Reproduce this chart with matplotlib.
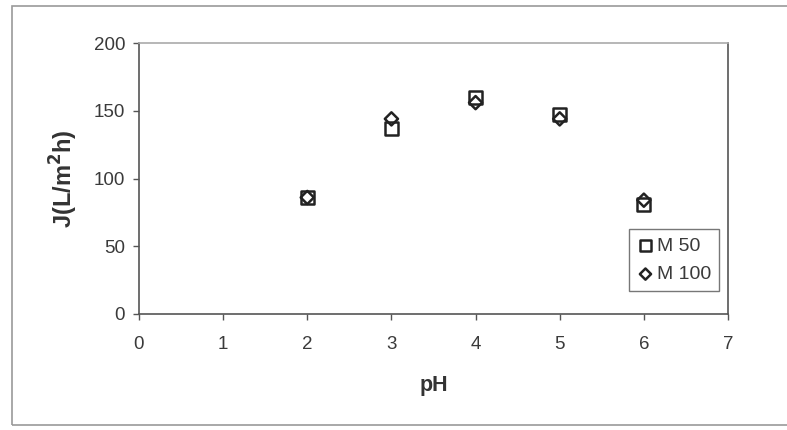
import matplotlib
matplotlib.use("Agg")
import matplotlib.pyplot as plt
from matplotlib.patches import Rectangle

plt.rcParams['font.family'] = ['Liberation Sans', 'DejaVu Sans']

ph = [2, 3, 4, 5, 6]
m50 = [86, 137, 160, 147, 81]
m100 = [86, 144, 156, 144, 84]
xticks = [0, 1, 2, 3, 4, 5, 6, 7]
yticks = [0, 50, 100, 150, 200]

fig = plt.figure(figsize=(7.87, 4.30), dpi=100)
fig.patches.append(Rectangle((12/787, 1-425/430), 1.0, (425-6)/430, transform=fig.transFigure,
                             fill=False, edgecolor='#9a9a9a', linewidth=1.2))
ax = fig.add_axes([139/787, 1-314/430, (728-139)/787, (314-43)/430])

ax.scatter(ph, m50, marker='s', s=85, facecolors='none', edgecolors='#222222', linewidths=1.8, label='M 50', zorder=3)
ax.scatter(ph, m100, marker='D', s=45, facecolors='none', edgecolors='#222222', linewidths=1.8, label='M 100', zorder=4)

ax.set_xlim(0, 7)
ax.set_ylim(0, 200)
ax.set_xticks(xticks)
ax.set_yticks(yticks)
ax.tick_params(direction='out', length=4, width=1, colors='#555555', labelsize=13.5, labelcolor='#3a3a3a')
ax.tick_params(axis='x', pad=12)
ax.tick_params(axis='y', pad=6)
for s in ax.spines.values():
    s.set_color('#555555')
    s.set_linewidth(1.2)
ax.spines['top'].set_color('#aaaaaa')

ax.set_xlabel('pH', fontsize=15.5, fontweight='bold', color='#333333', labelpad=16)
ax.set_ylabel('J(L/m$^{\\mathbf{2}}$h)', fontsize=17, fontweight='bold', color='#333333', labelpad=10)

leg = ax.legend(loc='lower right', bbox_to_anchor=(0.985, 0.085), fontsize=14, frameon=True, fancybox=False,
                edgecolor='#555555', handletextpad=0.15, borderpad=0.4, handlelength=0.9, labelspacing=0.55,
                borderaxespad=0, markerscale=0.85)
leg.get_frame().set_linewidth(1.0)
for t in leg.get_texts():
    t.set_color('#3a3a3a')

fig.savefig('out.png', dpi=100)
